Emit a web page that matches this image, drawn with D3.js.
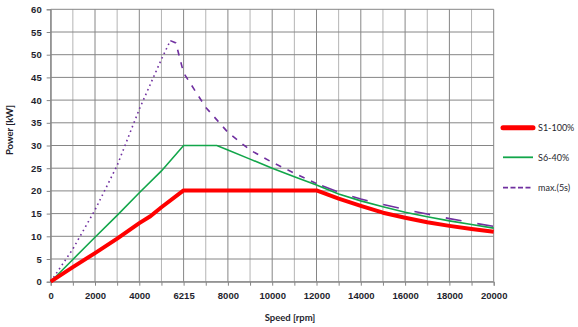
<!DOCTYPE html>
<html><head><meta charset="utf-8">
<script src="https://cdn.jsdelivr.net/npm/d3@7"></script>
<style>
body{margin:0;background:#fff;}
svg{display:block;font-family:Lato,"Open Sans",sans-serif;}
</style></head>
<body><svg id="c" width="578" height="327"></svg>
<script>
// ---- data ----
const xTickValues = [0,2000,4000,6000,8000,10000,12000,14000,16000,18000,20000];
const xTickLabels = ["0","2000","4000","6215","8000","10000","12000","14000","16000","18000","20000"];
const yTickValues = [0,5,10,15,20,25,30,35,40,45,50,55,60];
const seriesNames = ["S1-100%","S6-40%","max.(5s)"];

const s1Speed = [0,1000,2000,3000,4000,4500,5000,6000,7000,8000,9000,10000,11000,12000,13000,14000,15000,16000,17000,18000,19000,20000];
const s1Power = [0,3.2,6.3,9.5,12.9,14.4,16.4,20.1,20.1,20.1,20.1,20.1,20.1,20.1,18.3,16.7,15.2,14.1,13.1,12.3,11.6,11.0];

const s6Speed = [0,1000,2000,3000,4000,5000,6000,7500,8000,9000,10000,11000,12000,13000,14000,15000,16000,17000,18000,19000,20000];
const s6Power = [0,4.9,9.8,14.6,19.6,24.4,30.0,30.0,29.0,27.0,25.0,23.1,21.3,19.3,17.8,16.5,15.3,14.3,13.4,12.6,11.8];

const maxSpeed = [0,1000,2000,3000,4000,5000,5400,5650,6000,7000,8000,9000,10000,11000,12000,13000,14000,15000,16000,17000,18000,19000,20000];
const maxPower = [0,7.2,15.8,25.6,38.0,49.0,53.1,52.6,46.0,38.4,32.9,29.0,26.3,23.9,21.6,19.7,18.2,17.0,15.9,14.9,13.9,13.0,12.2];

// ---- layout ----
const svg = d3.select("#c");
const x = d3.scaleLinear().domain([0,20000]).range([50.7,493.7]);
const y = d3.scaleLinear().domain([0,60]).range([281.7,9.3]);
const txt = "#1f1f2e";

// grid
const minor = d3.range(1000,20000,2000);
svg.append("g").selectAll("line").data(minor).join("line")
  .attr("x1",d=>x(d)).attr("x2",d=>x(d)).attr("y1",y(0)).attr("y2",y(60))
  .attr("stroke","#b4b4b4").attr("stroke-width",1);
svg.append("g").selectAll("line").data(xTickValues).join("line")
  .attr("x1",d=>x(d)).attr("x2",d=>x(d)).attr("y1",y(0)).attr("y2",y(60))
  .attr("stroke","#868686").attr("stroke-width",1);
svg.append("g").selectAll("line").data(yTickValues).join("line")
  .attr("x1",x(0)).attr("x2",x(20000)).attr("y1",d=>y(d)).attr("y2",d=>y(d))
  .attr("stroke","#868686").attr("stroke-width",1);

// axes
const xAxis = d3.axisBottom(x).tickValues(d3.range(0,20001,1000)).tickSize(4)
  .tickFormat(d=>{const i=xTickValues.indexOf(d);return i>=0?xTickLabels[i]:"";});
const gx = svg.append("g").attr("transform",`translate(0,${y(0)})`).call(xAxis);
gx.select(".domain").attr("stroke","#868686");
gx.selectAll(".tick line").attr("stroke","#868686");
gx.selectAll("text").attr("fill",txt).attr("font-size","9.5px").attr("font-weight","bold").attr("dy","1.05em");

const yAxis = d3.axisLeft(y).tickValues(yTickValues).tickSize(4).tickPadding(5);
const gy = svg.append("g").attr("transform",`translate(${x(0)},0)`).call(yAxis);
gy.select(".domain").attr("stroke","#868686");
gy.selectAll(".tick line").attr("stroke","#868686");
gy.selectAll("text").attr("fill",txt).attr("font-size","9.5px").attr("font-weight","bold");

svg.append("text").attr("transform","translate(13,130) rotate(-90)").attr("text-anchor","middle")
  .attr("font-size","9.5px").attr("font-weight","bold").attr("fill",txt).text("Power [kW]");
svg.append("text").attr("x",290).attr("y",321).attr("text-anchor","middle")
  .attr("font-size","9.5px").attr("font-weight","bold").attr("fill",txt).text("Speed [rpm]");

// lines
const line = d3.line().x(d=>x(d[0])).y(d=>y(d[1]));
const zip = (a,b)=>a.map((v,i)=>[v,b[i]]);
const maxPts = zip(maxSpeed,maxPower);
const peakIdx = maxPower.indexOf(d3.max(maxPower));
const i12 = maxSpeed.indexOf(12000);
svg.append("path").attr("d",line(maxPts.slice(0,peakIdx+1))).attr("fill","none")
  .attr("stroke","#7030a0").attr("stroke-width",1.6).attr("stroke-dasharray","1.6,3.4");
svg.append("path").attr("d",line(maxPts.slice(peakIdx,i12+1))).attr("fill","none")
  .attr("stroke","#7030a0").attr("stroke-width",1.6).attr("stroke-dasharray","6,7");
svg.append("path").attr("d",line(maxPts.slice(i12))).attr("fill","none")
  .attr("stroke","#7030a0").attr("stroke-width",1.6).attr("stroke-dasharray","16,16").attr("stroke-dashoffset",-6);

svg.append("path").attr("d",line(zip(s6Speed,s6Power))).attr("fill","none")
  .attr("stroke","#12a64a").attr("stroke-width",1.6);
svg.append("path").attr("d",line(zip(s1Speed,s1Power))).attr("fill","none")
  .attr("stroke","#ff0000").attr("stroke-width",4).attr("stroke-linejoin","round");

// legend
const lg = svg.append("g");
const ly = [127.7,157.3,187.7];
const lstyle = [{c:"#ff0000",w:5,d:null},{c:"#12a64a",w:1.8,d:null},{c:"#7030a0",w:1.8,d:"5,2.5"}];
seriesNames.forEach((n,i)=>{
  lg.append("line").attr("x1",503).attr("x2",533).attr("y1",ly[i]).attr("y2",ly[i])
    .attr("stroke",lstyle[i].c).attr("stroke-width",lstyle[i].w).attr("stroke-dasharray",lstyle[i].d)
    .attr("stroke-linecap",i===0?"round":"butt");
  lg.append("text").attr("x",538).attr("y",ly[i]+3.2).attr("font-size","9px").attr("fill",txt).text(n);
});
</script></body></html>
